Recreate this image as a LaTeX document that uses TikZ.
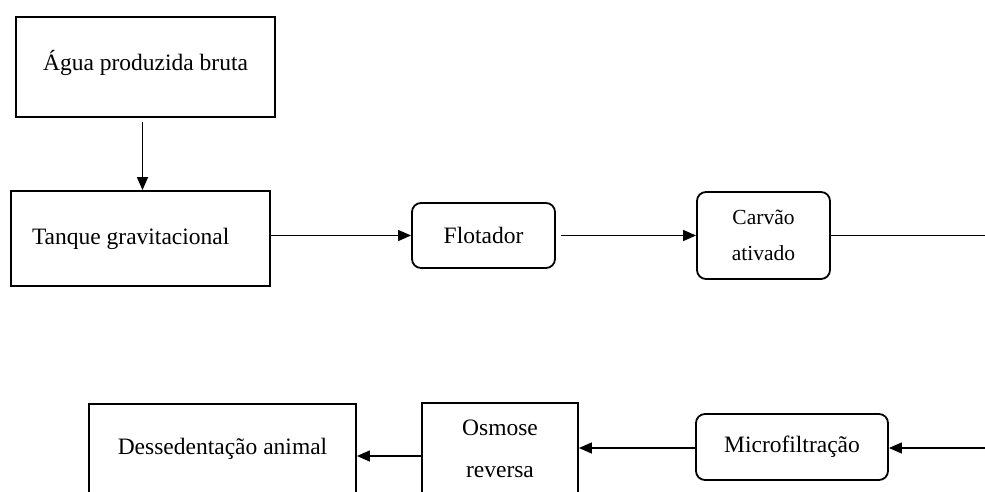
\documentclass[tikz,border=0pt]{standalone}
\usepackage{fontspec}
\setmainfont{Liberation Serif}
\usetikzlibrary{arrows.meta,calc}
\begin{document}
\begin{tikzpicture}[x=1pt,y=-1pt,
  box/.style={draw,line width=1.8pt,inner sep=0pt,font=\fontsize{23.5}{28}\selectfont},
  rbox/.style={box,rounded corners=9pt},
  arr/.style={line width=1.3pt,-{Triangle[length=13pt,width=11pt]}},
  ln/.style={line width=1.3pt}]
\useasboundingbox (0,0) rectangle (985,492);
\clip (0,0) rectangle (985,492);
\node[box,minimum width=259pt,minimum height=100pt] (agua) at (145.5,67) {\raisebox{-4pt}[0pt][0pt]{Água produzida bruta}};
\node[box,minimum width=259pt,minimum height=95pt] (tanque) at (140.5,238.5) {\makebox[217pt][l]{Tanque gravitacional}};
\node[rbox,minimum width=143pt,minimum height=65pt] (flot) at (483.5,235.5) {Flotador};
\node[rbox,minimum width=133pt,minimum height=87pt,align=center,font=\fontsize{21.5}{36}\selectfont] (carv) at (763.5,235.5) {Carvão\\ativado};
\node[box,minimum width=267pt,minimum height=90pt] (des) at (222.5,449) {Dessedentação animal};
\node[box,minimum width=156pt,minimum height=92pt,align=center,font=\fontsize{23.5}{42}\selectfont] (osm) at (500,449) {Osmose\\reversa};
\node[rbox,minimum width=192pt,minimum height=66pt] (micro) at (792,447) {Microfiltração};
\coordinate (rt) at (985,234);
\coordinate (rb) at (985,448);
\draw[arr] ([xshift=-3pt,yshift=-4pt]agua.south) -- ([xshift=-3pt]agua.south |- tanque.north);
\draw[arr] (tanque.east |- flot.west) -- (flot.west);
\draw[arr] ([xshift=5pt]flot.east) -- (flot.east -| carv.west);
\draw[ln] (carv.east) -- (carv.east -| rt);
\draw[arr] (rb) -- (rb -| micro.east);
\draw[arr] (micro.west |- rb) -- (rb -| osm.east);
\draw[arr] ([yshift=-7pt]osm.west) -- ([yshift=-7pt]osm.west -| des.east);
\end{tikzpicture}
\end{document}
